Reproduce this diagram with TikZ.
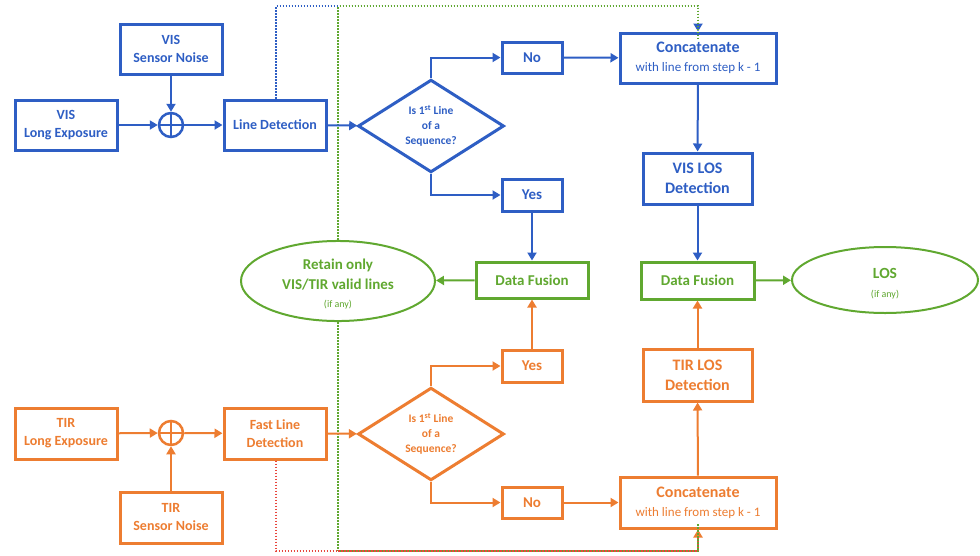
\documentclass[tikz,border=0pt]{standalone}
\usepackage{fontspec}
\setmainfont{Carlito}
\usetikzlibrary{shapes.geometric,arrows.meta}
\definecolor{visblue}{RGB}{46,94,196}
\definecolor{tirorange}{RGB}{237,125,49}
\definecolor{fusegreen}{RGB}{96,168,48}
\definecolor{tirred}{RGB}{232,70,60}
\tikzset{
  blk/.style={draw, fill=white, line width=3pt, align=center, inner sep=0pt, font=\bfseries\fontsize{14}{18}\selectfont},
  visbox/.style={blk, draw=visblue, text=visblue},
  tirbox/.style={blk, draw=tirorange, text=tirorange},
  fusebox/.style={blk, draw=fusegreen, text=fusegreen},
  catbox/.style={font=\bfseries\fontsize{16}{19}\selectfont},
  decide/.style={diamond, draw, fill=white, line width=3pt, align=center, inner sep=0pt, font=\bfseries\fontsize{11.5}{15}\selectfont},
  oval/.style={ellipse, draw=fusegreen, fill=white, line width=2pt, inner sep=0pt, align=center, text=fusegreen, font=\bfseries\fontsize{15}{19.5}\selectfont},
  summer/.style={circle, draw, line width=2.5pt, minimum size=24pt, inner sep=0pt},
  conn/.style={line width=2pt, -{Triangle[length=8pt,width=9pt]}},
  dotline/.style={line width=2pt, dash pattern=on 1.5pt off 1.5pt},
  dotline2/.style={line width=2pt, dash pattern=on 1.5pt off 1.5pt, dash phase=1.5pt},
}
\newcommand{\smalltxt}[1]{{\mdseries\fontsize{10}{12}\selectfont #1}}
\begin{document}
\begin{tikzpicture}[x=1pt,y=-1pt]
\useasboundingbox (0,0) rectangle (980,555);

% ---------- VIS branch ----------
\node[visbox, minimum width=102, minimum height=50] (visle) at (66,125) {VIS\\Long Exposure};
\node[visbox, minimum width=102, minimum height=50] (visn) at (171,49) {VIS\\Sensor Noise};
\node[summer, draw=visblue] (visp) at (171,125) {};
\node[visbox, minimum width=102, minimum height=50] (visld) at (275,125) {Line Detection};
\node[decide, draw=visblue, text=visblue, minimum width=146, minimum height=78] (visd) at (431,126) {Is 1\textsuperscript{st} Line\\of a\\Sequence?};
\node[visbox, minimum width=60, minimum height=31, font=\bfseries\fontsize{15}{17}\selectfont] (visno) at (532,57.5) {No};
\node[visbox, minimum width=60, minimum height=32, font=\bfseries\fontsize{15}{17}\selectfont] (visyes) at (532,195) {Yes};
\node[visbox, catbox, minimum width=156, minimum height=50] (viscat) at (698,58) {Concatenate\\{\mdseries\fontsize{13}{15}\selectfont with line from step k - 1}};
\node[visbox, minimum width=109, minimum height=51, font=\bfseries\fontsize{16}{20}\selectfont] (vislos) at (697.5,178.5) {VIS LOS\\Detection};

% ---------- fusion ----------
\node[fusebox, minimum width=112, minimum height=36, font=\bfseries\fontsize{15}{17}\selectfont] (dfl) at (532,280) {Data Fusion};
\node[fusebox, minimum width=113, minimum height=37, font=\bfseries\fontsize{15}{17}\selectfont] (dfr) at (697.5,280.5) {Data Fusion};
\node[oval, minimum width=194, minimum height=62] (retain) at (338,281) {\rule{0pt}{17pt}Retain only\\VIS/TIR valid lines\\[-1pt]\smalltxt{(if any)}};
\node[oval, minimum width=186, minimum height=66, font=\bfseries\fontsize{15.5}{18.5}\selectfont] (los) at (885,280) {\rule{0pt}{18pt}LOS\\\smalltxt{(if any)}};

% ---------- TIR branch ----------
\node[tirbox, minimum width=102, minimum height=51] (tirle) at (66,433.5) {TIR\\Long Exposure};
\node[tirbox, minimum width=102, minimum height=51] (tirn) at (171,517.5) {TIR\\Sensor Noise};
\node[summer, draw=tirorange] (tirp) at (171,433) {};
\node[tirbox, minimum width=102, minimum height=51] (tirld) at (275,433.5) {Fast Line\\Detection};
\node[decide, draw=tirorange, text=tirorange, minimum width=146, minimum height=78] (tird) at (431,434) {Is 1\textsuperscript{st} Line\\of a\\Sequence?};
\node[tirbox, minimum width=60, minimum height=32, font=\bfseries\fontsize{15}{17}\selectfont] (tiryes) at (532,366) {Yes};
\node[tirbox, minimum width=60, minimum height=31, font=\bfseries\fontsize{15}{17}\selectfont] (tirno) at (532,502.5) {No};
\node[tirbox, catbox, minimum width=156, minimum height=51] (tircat) at (698,502.5) {Concatenate\\{\mdseries\fontsize{13}{15}\selectfont with line from step k - 1}};
\node[tirbox, minimum width=109, minimum height=52, font=\bfseries\fontsize{16}{20}\selectfont] (tirlos) at (697.5,375) {TIR LOS\\Detection};

% crosses inside the summing junctions
\draw[visblue, line width=2pt] (visp.north) -- (visp.south) (visp.west) -- (visp.east);
\draw[tirorange, line width=2pt] (tirp.north) -- (tirp.south) (tirp.west) -- (tirp.east);

% ---------- feedback paths (dotted) ----------
\coordinate (vtop) at (276,6);
\coordinate (gtop) at (338,6);
\coordinate (ctop) at (698,6);
\coordinate (tbot) at (276,551);
\coordinate (gbot) at (338,551);
\coordinate (cbot) at (698,551);
\draw[dotline, fusegreen] (retain.north) -- (gtop);
\draw[dotline, fusegreen] (retain.south) -- (gbot);
\draw[dotline, visblue, -{Triangle[length=8pt,width=9pt]}] (visld.north -| vtop) -- (vtop) -- (ctop) -- (viscat.north);
\draw[dotline2, fusegreen] (gtop) -- (ctop) -- ([yshift=-7pt]viscat.north);
\draw[dotline, tirred] (tirld.south -| tbot) -- (tbot) -- (gbot);
\draw[dotline, tirred, -{Triangle[length=8pt,width=9pt,color=tirorange]}] (gbot) -- (cbot) -- (tircat.south);
\draw[dotline2, fusegreen] (gbot) -- (cbot) -- ([yshift=7pt]tircat.south);

% ---------- VIS connectors ----------
\draw[conn, visblue] (visle) -- (visp);
\draw[conn, visblue] (visn) -- (visp);
\draw[conn, visblue] (visp) -- (visld);
\draw[conn, visblue] (visld) -- (visd);
\draw[conn, visblue] (visd.north) |- (visno);
\draw[conn, visblue] (visd.south) |- (visyes);
\draw[conn, visblue] (visno) -- (viscat);
\draw[conn, visblue] (viscat) -- (vislos);
\draw[conn, visblue] (vislos) -- (dfr);
\draw[conn, visblue] (visyes) -- (dfl);

% ---------- fusion connectors ----------
\draw[conn, fusegreen] (dfl) -- (retain);
\draw[conn, fusegreen] (dfr) -- (los);

% ---------- TIR connectors ----------
\draw[conn, tirorange] (tirle) -- (tirp);
\draw[conn, tirorange] (tirn) -- (tirp);
\draw[conn, tirorange] (tirp) -- (tirld);
\draw[conn, tirorange] (tirld) -- (tird);
\draw[conn, tirorange] (tird.north) |- (tiryes);
\draw[conn, tirorange] (tird.south) |- (tirno);
\draw[conn, tirorange] (tirno) -- (tircat);
\draw[conn, tirorange] (tircat) -- (tirlos);
\draw[conn, tirorange] (tirlos) -- (dfr);
\draw[conn, tirorange] (tiryes) -- (dfl);
\end{tikzpicture}
\end{document}
